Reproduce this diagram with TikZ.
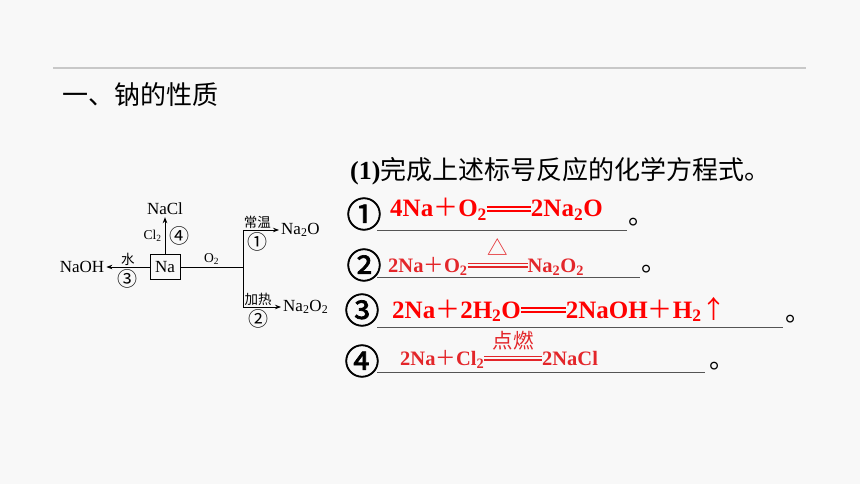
\documentclass[tikz,border=0pt]{standalone}
\usepackage{fontspec}
\setmainfont{Liberation Serif}
\newfontfamily\cjk{Noto Sans CJK SC}
\newfontfamily\cjknum[FakeBold=2]{Noto Sans CJK SC}
\usetikzlibrary{positioning,arrows.meta}

\definecolor{bgcol}{HTML}{F8F8F8}
\definecolor{rulecol}{HTML}{C8C8C8}
\definecolor{chemred}{HTML}{FF0000}
\definecolor{chemdark}{HTML}{E3262A}
\definecolor{linecol}{HTML}{555555}

% double bar of a reaction and a condition written over it
\newcommand\dbleq[1]{\rlap{\raisebox{0.37em}{\rule{#1}{0.06em}}}\raisebox{0.21em}{\rule{#1}{0.06em}}}
\newcommand\condeq[2]{\rlap{\makebox[#1]{\raisebox{0.8em}{\cjk\mdseries #2}}}\dbleq{#1}}
\newcommand\cplus{{\cjk\mdseries ＋}}

\tikzset{
  chem/.style={inner sep=2pt, font=\fontsize{17}{20}\selectfont},
  box/.style={draw, line width=0.8pt, minimum width=30pt, minimum height=25pt, inner sep=0pt, font=\fontsize{17}{20}\selectfont},
  cond/.style={inner sep=1pt, font=\cjk\fontsize{13.5}{15}\selectfont},
  circnum/.style={inner sep=0pt, font=\cjk\fontsize{20}{22}\selectfont},
  bignum/.style={inner sep=0pt, font=\cjknum\fontsize{35}{38}\selectfont},
  arr/.style={line width=0.8pt, -{Stealth[length=6pt,width=4.5pt]}},
  wire/.style={line width=0.8pt},
  rowtext/.style={inner sep=0pt, font=\cjk\fontsize{26}{30}\selectfont},
  eqnbig/.style={inner sep=0pt, anchor=base west, text=chemred, font=\bfseries\fontsize{25}{30}\selectfont},
  eqnsmall/.style={inner sep=0pt, anchor=base west, text=chemdark, font=\bfseries\fontsize{20.5}{24}\selectfont},
  blank/.style={linecol, line width=0.9pt},
}

\begin{document}
\begin{tikzpicture}[x=1pt, y=-1pt]
\fill[bgcol] (0,0) rectangle (860,484);
\useasboundingbox (0,0) rectangle (860,484);

% heading
\draw[rulecol, line width=2pt] (53,68) -- (806,68);
\node[rowtext, anchor=west] (title) at (62,95) {一、钠的性质};

% scheme of the reactions
\def\yna{267}
\def\xsplit{243}
\def\yup{230}
\def\ydown{307}

\node[box] (na) at (165,\yna) {Na};
\node[chem] (naoh) at (82,\yna) {NaOH};
\node[chem] (nacl) at (165,209) {NaCl};
\coordinate (split) at (\xsplit,\yna);
\coordinate (up) at (\xsplit,\yup);
\coordinate (down) at (\xsplit,\ydown);
\node[chem, anchor=west] (na2o) at (279,\yup) {Na\textsubscript{2}O};
\node[chem, anchor=west] (na2o2) at (281,\ydown) {Na\textsubscript{2}O\textsubscript{2}};

\draw[arr] (na) -- node[cond, above] {水} node[circnum, below=2pt] {③} (naoh);
\draw[arr] (na) -- node[chem, left=1pt] {\fontsize{13.5}{15}\selectfont Cl\textsubscript{2}}
  node[circnum, right=4pt] {④} (nacl);
\draw[wire] (na) -- node[chem, above] {\fontsize{13.5}{15}\selectfont O\textsubscript{2}} (split);
\draw[wire] (up) -- (down);
\draw[arr] (up) -- node[cond, above, pos=0.4] {常温} node[circnum, below=2pt, pos=0.4] {①} (na2o);
\draw[arr] (down) -- node[cond, above, pos=0.4] {加热} node[circnum, below=2pt, pos=0.4] {②} (na2o2);

% the task and its four equations
\node[rowtext, anchor=west] (task) at (350,171) {{\rmfamily\bfseries (1)}完成上述标号反应的化学方程式。};

\node[bignum] (c1) at (364,214) {①};
\draw[blank] (377,230) -- (627,230);
\node[rowtext, anchor=base west] (p1) at (628,225) {。};
\node[eqnbig] (f1) at (390,217)
  {4Na\cplus O\textsubscript{2}\dbleq{44pt}2Na\textsubscript{2}O};

\node[bignum] (c2) at (364,265) {②};
\draw[blank] (377,277) -- (640,277);
\node[rowtext, anchor=base west] (p2) at (641,271) {。};
\node[eqnsmall] (f2) at (388,272)
  {2Na\cplus O\textsubscript{2}\condeq{60pt}{△}Na\textsubscript{2}O\textsubscript{2}};

\node[bignum] (c3) at (362,310) {③};
\draw[blank] (377,327) -- (783,327);
\node[rowtext, anchor=base west] (p3) at (785,321) {。};
\node[eqnbig] (f3) at (392,318)
  {2Na\cplus 2H\textsubscript{2}O\dbleq{45pt}2NaOH\cplus H\textsubscript{2}{\cjk\mdseries ↑}};

\node[bignum] (c4) at (362,361) {④};
\draw[blank] (377,372) -- (705,372);
\node[rowtext, anchor=base west] (p4) at (709,368) {。};
\node[eqnsmall] (f4) at (400,365)
  {2Na\cplus Cl\textsubscript{2}\condeq{58pt}{点燃}2NaCl};
\end{tikzpicture}
\end{document}
